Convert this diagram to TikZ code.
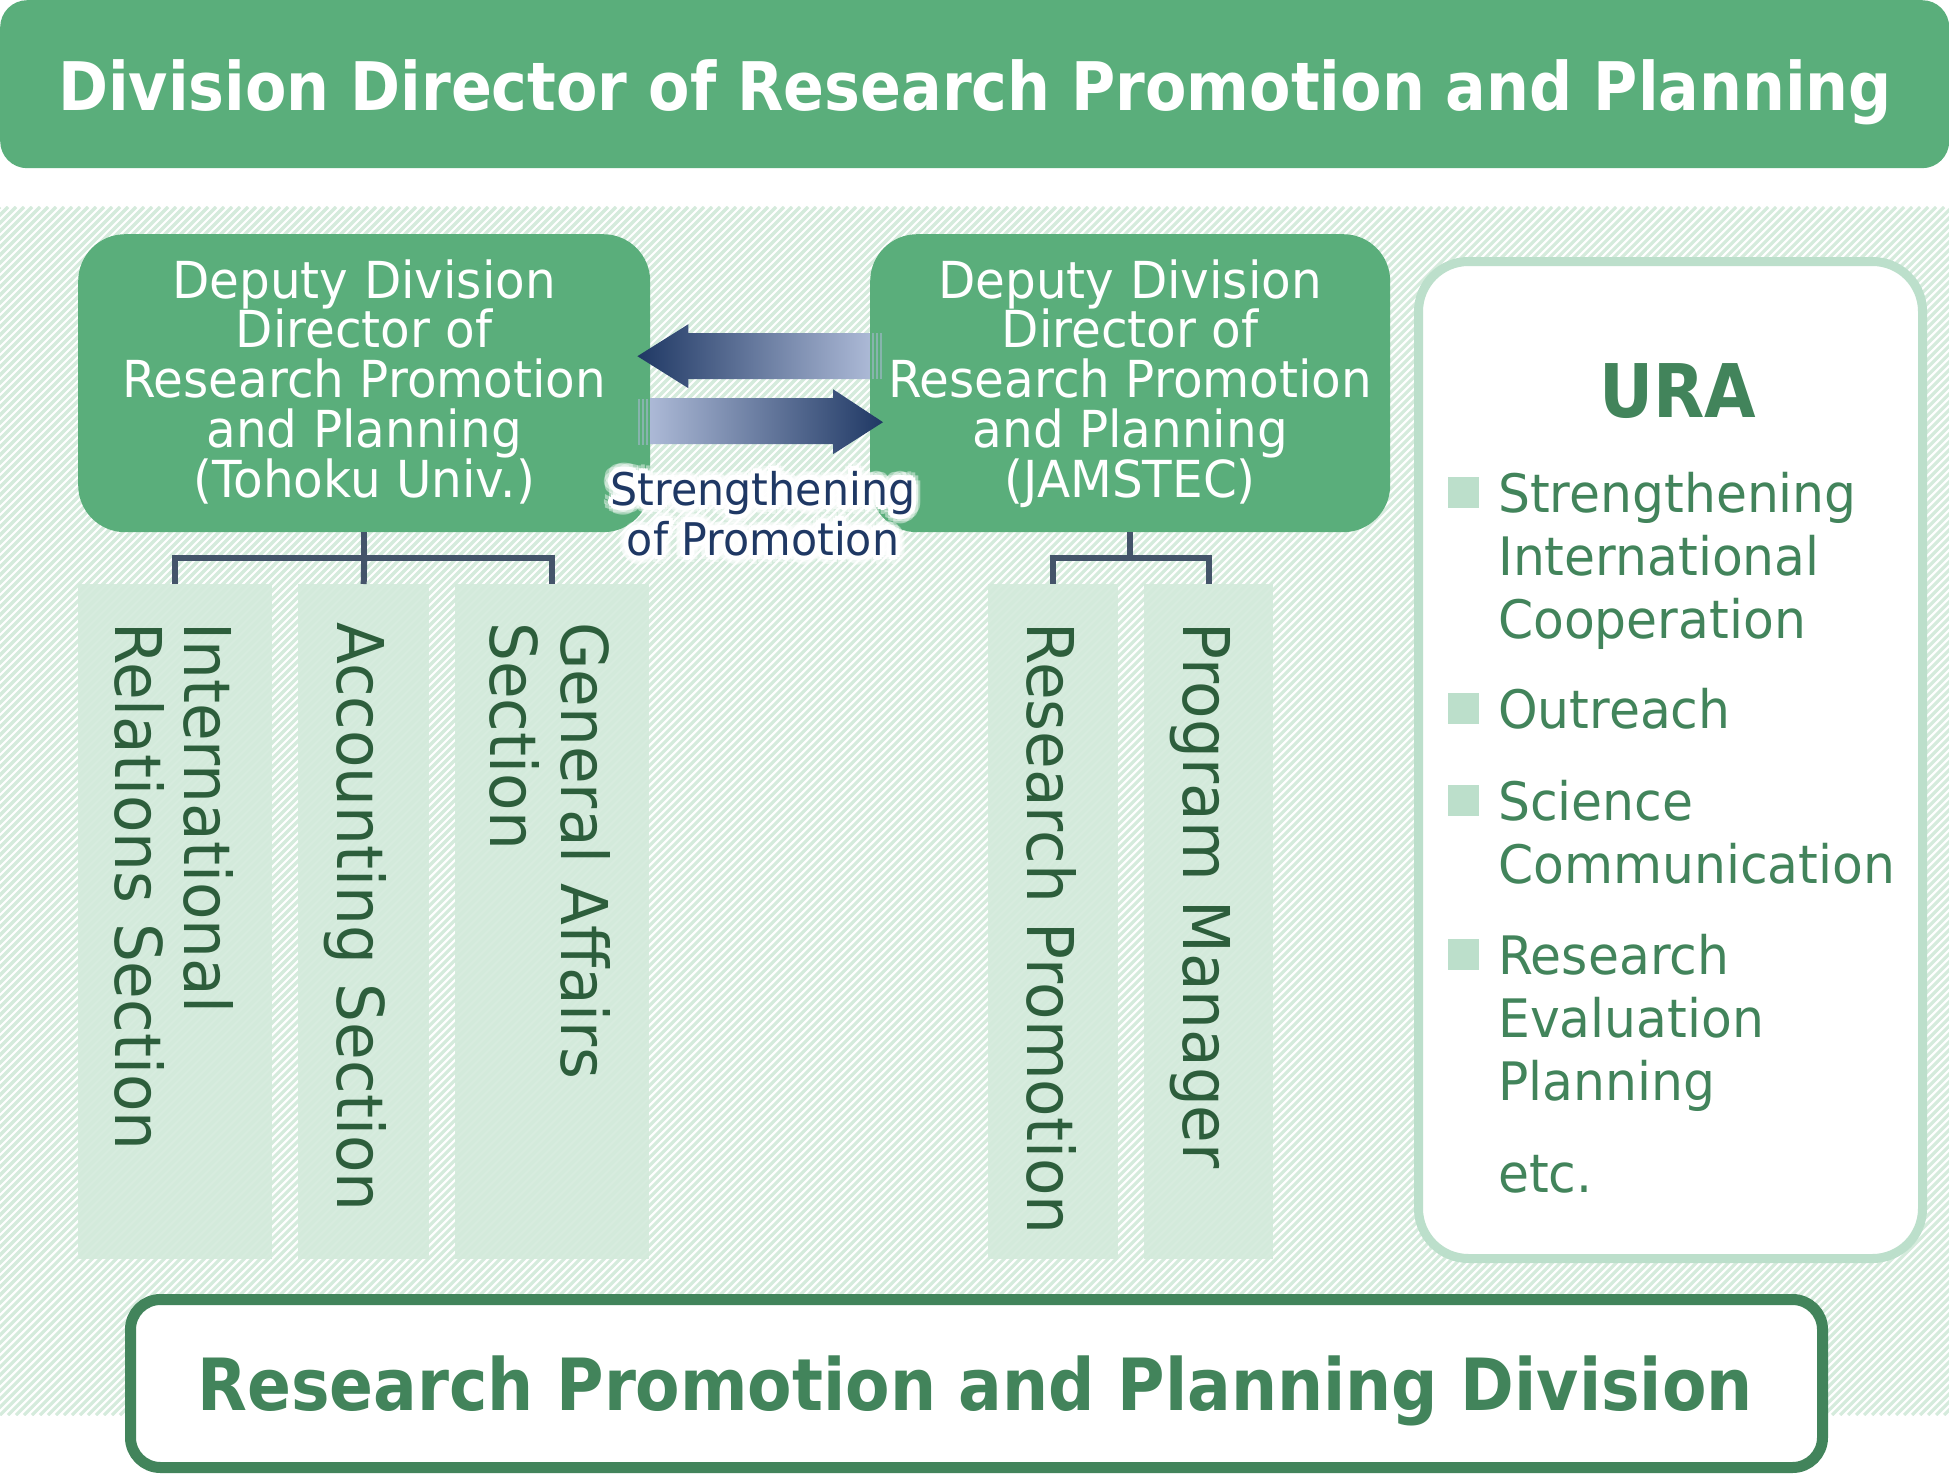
\documentclass[tikz,border=0pt]{standalone}
\usepackage{fontspec}
\setmainfont{DejaVu Sans}[FakeStretch=0.95]
\newfontfamily\headfont{DejaVu Sans}[FakeStretch=0.9]
\usetikzlibrary{calc}

\definecolor{boxgreen}{RGB}{90,174,123}
\definecolor{darkgreen}{RGB}{66,132,91}
\definecolor{paleline}{RGB}{213,235,220}
\definecolor{secfill}{RGB}{211,234,219}
\definecolor{secgreen}{RGB}{45,94,60}
\definecolor{uraline}{RGB}{188,223,203}
\definecolor{connline}{RGB}{68,84,106}
\definecolor{navy}{RGB}{31,56,100}
\definecolor{navylight}{RGB}{172,185,214}

\tikzset{
  deputy/.style={fill=boxgreen, rounded corners=47pt, minimum width=572pt, minimum height=298pt, anchor=north west, inner sep=0pt},
  deptext/.style={text=white, align=center, anchor=base, inner sep=0pt, font=\fontsize{51}{49.7}\selectfont},
  secbox/.style={fill=secfill, fill opacity=0.9, minimum height=675pt, anchor=north west, inner sep=0pt},
  sectext/.style={text=secgreen, rotate=-90, anchor=base west, inner sep=0pt, font=\fontsize{64.5}{69}\selectfont},
  conn/.style={draw=connline, line width=6pt},
  promo/.style={align=center, anchor=base, inner sep=0pt, font=\fontsize{45}{50}\selectfont},
  uraitem/.style={text=darkgreen, anchor=base west, align=left, inner sep=0pt, font=\fontsize{53}{63}\selectfont},
  urasq/.style={fill=uraline, minimum size=31pt, inner sep=0pt, anchor=south west},
}

\begin{document}
\begin{tikzpicture}[x=1pt, y=-1pt]
  \useasboundingbox (0,0) rectangle (1949,1474);
  \fill[white] (0,0) rectangle (1949,1474);

  % striped background
  \begin{scope}
    \clip (0,207) rectangle (1949,1415);
    \foreach \k in {-1216,-1208,...,1960}
      \draw[paleline, line width=3.2pt] (\k,1415) -- ++(1208,-1208);
  \end{scope}

  % top banner
  \node[fill=boxgreen, rounded corners=27pt, minimum width=1949pt, minimum height=168pt, inner sep=0pt, anchor=north west] (divdir) at (0,0) {};
  \node[text=white, anchor=base, inner sep=0pt, font=\headfont\bfseries\fontsize{67}{67}\selectfont] (divdirT) at (975,111) {Division Director of Research Promotion and Planning};

  % deputy directors
  \node[deputy] (tohoku) at (78,234) {};
  \node[deputy, minimum width=520pt] (jamstec) at (870,234) {};
  \node[deptext] (tohokuT) at ([yshift=-263pt]tohoku.north) {Deputy Division\\Director of\\Research Promotion\\and Planning\\(Tohoku Univ.)};
  \node[deptext] (jamstecT) at ([yshift=-263pt]jamstec.north) {Deputy Division\\Director of\\Research Promotion\\and Planning\\(JAMSTEC)};

  % sections
  \node[secbox, minimum width=194pt] (intl) at (78,584) {};
  \node[secbox, minimum width=131pt] (acct) at (298,584) {};
  \node[secbox, minimum width=194pt] (genaff) at (455,584) {};
  \node[secbox, minimum width=130pt] (respro) at (988,584) {};
  \node[secbox, minimum width=129pt] (progman) at (1144,584) {};

  \node[sectext] (intlA) at (184,622) {International};
  \node[sectext] (intlB) at (115,622) {Relations Section};
  \node[sectext] (acctT) at (337,622) {Accounting Section};
  \node[sectext] (genaffA) at (561,622) {General Affairs};
  \node[sectext] (genaffB) at (490,622) {Section};
  \node[sectext] (resproT) at (1027,622) {Research Promotion};
  \node[sectext] (progmanT) at (1183,622) {Program Manager};

  % tree lines
  \coordinate (tjoin) at ([yshift=-26pt]tohoku.south);
  \draw[conn] (tohoku.south) -- (tjoin);
  \draw[conn] (intl.north) |- (tjoin) -| (genaff.north);
  \draw[conn] (tjoin) -- (acct.north);
  \coordinate (jjoin) at ([yshift=-26pt]jamstec.south);
  \draw[conn] (jamstec.south) -- (jjoin);
  \draw[conn] (respro.north) |- (jjoin) -| (progman.north);

  % exchange arrows
  \coordinate (ltip) at ([xshift=-13pt, yshift=27pt]tohoku.east);
  \coordinate (rtip) at ([xshift=13pt, yshift=-39pt]jamstec.west);
  \shade[left color=navy, right color=navylight] (ltip) -- ++(51,-32) -- ++(0,9) -- ++(182,0) -- ++(0,46) -- ++(-182,0) -- ++(0,9) -- cycle;
  \shade[left color=navylight, right color=navy] (rtip) -- ++(-50,-33) -- ++(0,9) -- ++(-183,0) -- ++(0,46) -- ++(183,0) -- ++(0,10) -- cycle;
  \foreach \d in {3,7,11}{
    \draw[navylight!55!boxgreen, line width=2pt] ([xshift=\d pt]ltip -| jamstec.west) ++(0,-23) -- ++(0,46);
    \draw[navylight!55!boxgreen, line width=2pt] ([xshift=-\d pt]rtip -| tohoku.east) ++(0,-23) -- ++(0,46);
  }

  % label with glow
  \foreach \a [count=\i] in {0,30,...,330}
    \node[promo, text=white, opacity=0.45] (glowB\i) at ([shift={(\a:9pt)}]763,555) {Strengthening\\of Promotion};
  \foreach \a [count=\i] in {0,30,...,330}
    \node[promo, text=white] (glowA\i) at ([shift={(\a:5pt)}]763,555) {Strengthening\\of Promotion};
  \node[promo, text=navy] (promoT) at (763,555) {Strengthening\\of Promotion};

  % URA
  \node[draw=uraline, line width=9pt, fill=white, rounded corners=50pt, minimum width=504pt, minimum height=997pt, anchor=north west, inner sep=0pt] (ura) at (1414,257) {};
  \node[text=darkgreen, anchor=base, inner sep=0pt, font=\headfont\bfseries\fontsize{74}{74}\selectfont] (uraT) at (1678,417) {URA};
  \node[uraitem] (ura1) at (1498,638) {Strengthening\\International\\Cooperation};
  \node[uraitem] (ura2) at (1498,728) {Outreach};
  \node[uraitem] (ura3) at (1498,883) {Science\\Communication};
  \node[uraitem] (ura4) at (1498,1100) {Research\\Evaluation\\Planning};
  \node[uraitem] (ura5) at (1498,1192) {etc.};
  \foreach \n/\y in {1/508,2/724,3/816,4/970}
    \node[urasq] (sq\n) at (1448,\y) {};

  % bottom banner
  \node[draw=darkgreen, line width=11pt, fill=white, rounded corners=30pt, minimum width=1692pt, minimum height=168pt, anchor=north west, inner sep=0pt] (rppd) at (125,1294) {};
  \node[text=darkgreen, anchor=base, inner sep=0pt, font=\headfont\bfseries\fontsize{72}{72}\selectfont] (rppdT) at (975,1410) {Research Promotion and Planning Division};
\end{tikzpicture}
\end{document}
